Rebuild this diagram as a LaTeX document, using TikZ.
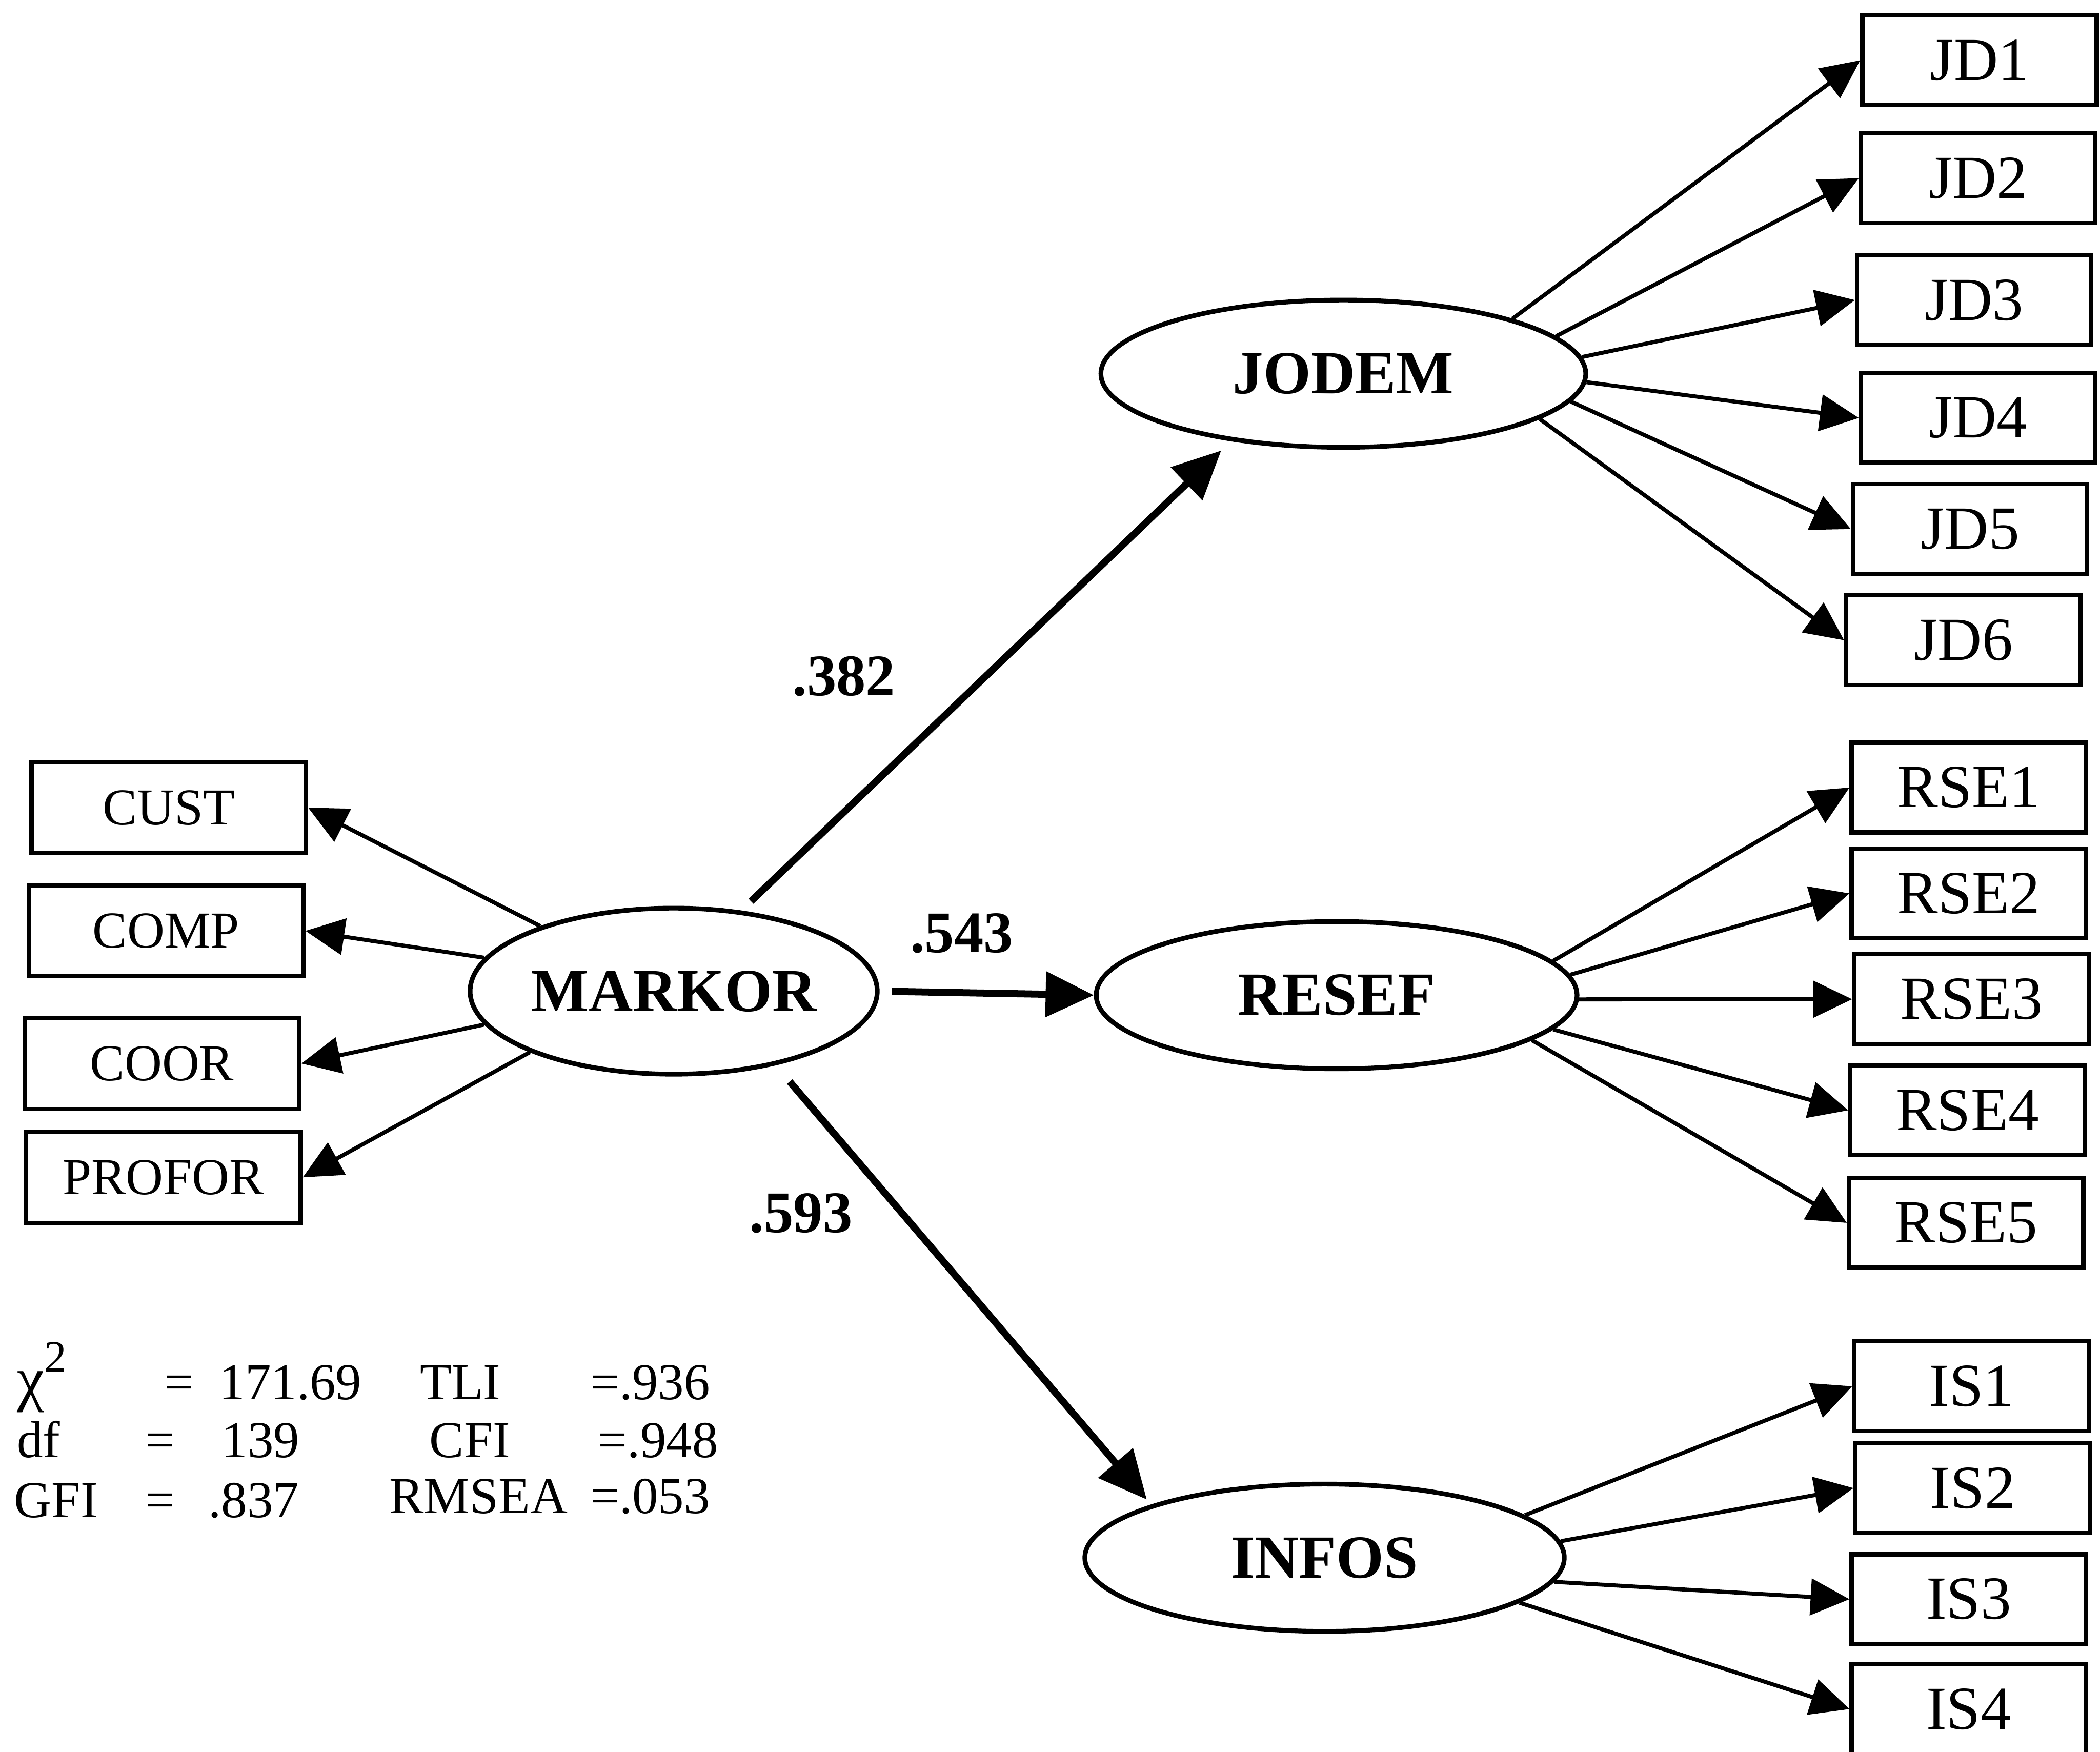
\documentclass[tikz,border=0pt]{standalone}
\usepackage{fontspec}
\setmainfont{Liberation Serif}
\usetikzlibrary{shapes.geometric,arrows.meta}

\begin{document}
\begin{tikzpicture}[
  lat/.style={draw, ellipse, line width=1pt, inner sep=0pt,
              minimum width=3.6cm, minimum height=1.1cm,
              font=\fontsize{13}{15}\selectfont\bfseries},
  ind/.style={draw, line width=0.9pt, inner sep=0pt,
              minimum width=1.75cm, minimum height=0.67cm,
              font=\fontsize{13}{15}\selectfont},
  lind/.style={ind, minimum width=2.05cm, minimum height=0.68cm,
               font=\fontsize{11}{13}\selectfont},
  struct/.style={-{Triangle[length=3.6mm,width=3.3mm]}, line width=1.5pt},
  loadarr/.style={-{Triangle[length=2.9mm,width=2.7mm]}, line width=0.85pt},
  coef/.style={font=\fontsize{12.5}{15}\selectfont\bfseries},
  stat/.style={font=\fontsize{11}{13}\selectfont, anchor=base west, inner sep=0pt}
]
\useasboundingbox (0,0) rectangle (15.68,-13.08);

% latent variables
\node[lat, minimum width=3.04cm, minimum height=1.24cm] (markor) at (5.03,-7.40) {MARKOR};
\node[lat, minimum width=3.62cm] (jodem) at (10.03,-2.79)  {JODEM};
\node[lat, minimum width=3.59cm] (resef) at (9.98,-7.43)   {RESEF};
\node[lat, minimum width=3.58cm] (infos) at (9.89,-11.63)  {INFOS};

% indicators of MARKOR
\node[lind] (cust)   at (1.26,-6.03) {CUST};
\node[lind] (comp)   at (1.24,-6.95) {COMP};
\node[lind] (coor)   at (1.21,-7.94) {COOR};
\node[lind] (profor) at (1.22,-8.79) {PROFOR};

% indicators of JODEM
\node[ind] (jd1) at (14.78,-0.45) {JD1};
\node[ind] (jd2) at (14.77,-1.33) {JD2};
\node[ind] (jd3) at (14.74,-2.24) {JD3};
\node[ind] (jd4) at (14.77,-3.12) {JD4};
\node[ind] (jd5) at (14.71,-3.95) {JD5};
\node[ind] (jd6) at (14.66,-4.78) {JD6};

% indicators of RESEF
\node[ind] (rse1) at (14.70,-5.88) {RSE1};
\node[ind] (rse2) at (14.70,-6.67) {RSE2};
\node[ind] (rse3) at (14.72,-7.46) {RSE3};
\node[ind] (rse4) at (14.69,-8.29) {RSE4};
\node[ind] (rse5) at (14.68,-9.13) {RSE5};

% indicators of INFOS
\node[ind] (is1) at (14.72,-10.35) {IS1};
\node[ind] (is2) at (14.73,-11.11) {IS2};
\node[ind] (is3) at (14.70,-11.94) {IS3};
\node[ind] (is4) at (14.70,-12.76) {IS4};

% structural paths
\draw[struct, shorten <=1mm, shorten >=1mm] (markor.50) -- (jodem.211);
\draw[struct, shorten <=0.9mm] (markor.east) -- (resef.west);
\draw[struct, shorten <=1.6mm, shorten >=0.5mm] (markor.-36) -- (infos.163);

\node[coef] (c382) at (6.30,-5.05) {.382};
\node[coef] (c543) at (7.18,-6.97) {.543};
\node[coef] (c593) at (5.98,-9.06) {.593};

% loadings
\draw[loadarr] (markor.154.7) -- (cust.east);
\draw[loadarr] (markor.170.9) -- (comp.east);
\draw[loadarr] (markor.190.5) -- (coor.east);
\draw[loadarr] (markor.203)   -- (profor.east);

\draw[loadarr] (jodem.18.7) -- (jd1.west);
\draw[loadarr] (jodem.10.1) -- (jd2.west);
\draw[loadarr] (jodem.4.5)  -- (jd3.west);
\draw[loadarr] (jodem.-2.5) -- (jd4.west);
\draw[loadarr] (jodem.-7.5) -- (jd5.west);
\draw[loadarr] (jodem.-13.6) -- (jd6.west);

\draw[loadarr] (resef.9.5)  -- (rse1.west);
\draw[loadarr] (resef.5)    -- (rse2.west);
\draw[loadarr] (resef.-1.3) -- (rse3.west);
\draw[loadarr] (resef.-9)   -- (rse4.west);
\draw[loadarr] (resef.-13)  -- (rse5.west);

\draw[loadarr] (infos.12.5) -- (is1.west);
\draw[loadarr] (infos.4.2)  -- (is2.west);
\draw[loadarr] (infos.-6.4) -- (is3.west);
\draw[loadarr] (infos.-13)  -- (is4.west);

% fit statistics
\node[stat] (chi)      at (0.12,-10.45) {\fontsize{13}{13}\selectfont χ\raisebox{1.0ex}{\fontsize{9.5}{9.5}\selectfont 2}};
\node[stat] (chieq)    at (1.22,-10.45) {=};
\node[stat] (chival)   at (1.63,-10.45) {171.69};
\node[stat] (tli)      at (3.13,-10.45) {TLI};
\node[stat] (tlival)   at (4.40,-10.45) {=.936};
\node[stat] (df)       at (0.12,-10.88) {df};
\node[stat] (dfeq)     at (1.08,-10.88) {=};
\node[stat] (dfval)    at (1.65,-10.88) {139};
\node[stat] (cfi)      at (3.20,-10.88) {CFI};
\node[stat] (cfival)   at (4.46,-10.88) {=.948};
\node[stat] (gfi)      at (0.10,-11.33) {GFI};
\node[stat] (gfieq)    at (1.08,-11.33) {=};
\node[stat] (gfival)   at (1.55,-11.33) {.837};
\node[stat] (rmsea)    at (2.90,-11.30) {RMSEA};
\node[stat] (rmseaval) at (4.40,-11.30) {=.053};
\end{tikzpicture}
\end{document}
